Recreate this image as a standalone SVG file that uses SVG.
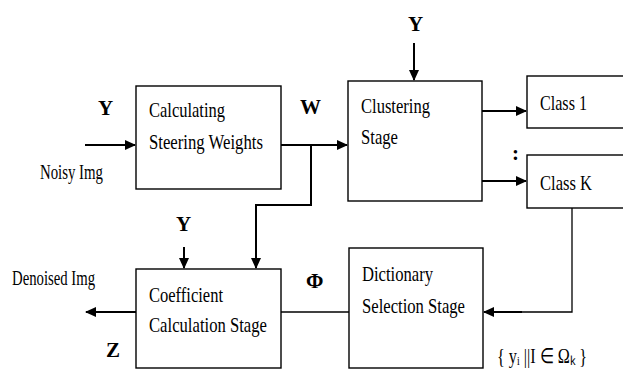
<svg xmlns="http://www.w3.org/2000/svg" width="623" height="372" viewBox="0 0 623 372">
<style>
.box{fill:#fff;stroke:#000;stroke-width:1.4}
.t{font-family:"Liberation Serif","Times New Roman",serif;font-size:21px;fill:#000}
.b{font-weight:bold}
.c{fill:none;stroke:#000;stroke-width:2}
.thin{fill:none;stroke:#000;stroke-width:1.3}
</style>
<defs>
<marker id="ah" markerWidth="11" markerHeight="10" refX="10" refY="5" orient="auto" markerUnits="userSpaceOnUse">
<path d="M0,0 L11,5 L0,10 Z" fill="#000"/>
</marker>
</defs>
<rect width="623" height="372" fill="#fff"/>
<g id="connectors">
<line class="c" x1="85" y1="145" x2="135" y2="145" marker-end="url(#ah)"/>
<line class="c" x1="281" y1="145" x2="347" y2="145" marker-end="url(#ah)"/>
<polyline class="c" points="311,145 311,205 256,205 256,268" marker-end="url(#ah)"/>
<line class="c" x1="414" y1="43" x2="414" y2="80" marker-end="url(#ah)"/>
<line class="c" x1="482" y1="111" x2="526" y2="111" marker-end="url(#ah)"/>
<line class="c" x1="482" y1="181" x2="526" y2="181" marker-end="url(#ah)"/>
<polyline class="thin" points="572,208 572,312 520,312"/>
<line class="c" x1="522" y1="312" x2="484" y2="312" marker-end="url(#ah)"/>
<line class="thin" x1="281" y1="312" x2="349" y2="312"/>
<line class="c" x1="184" y1="247" x2="184" y2="268" marker-end="url(#ah)"/>
<line class="c" x1="136" y1="312" x2="86" y2="312" marker-end="url(#ah)"/>
</g>
<g id="steering">
<rect class="box" x="136" y="86" width="145" height="103"/>
<text class="t" x="149" y="117" textLength="76" lengthAdjust="spacingAndGlyphs">Calculating</text>
<text class="t" x="149" y="149" textLength="114" lengthAdjust="spacingAndGlyphs">Steering Weights</text>
</g>
<g id="clustering">
<rect class="box" x="348" y="81" width="134" height="120"/>
<text class="t" x="361" y="113" textLength="69" lengthAdjust="spacingAndGlyphs">Clustering</text>
<text class="t" x="361" y="144" textLength="37" lengthAdjust="spacingAndGlyphs">Stage</text>
</g>
<g id="class1">
<rect class="box" x="527" y="76" width="100" height="52"/>
<text class="t" x="540" y="110" textLength="47" lengthAdjust="spacingAndGlyphs">Class 1</text>
</g>
<g id="classK">
<rect class="box" x="527" y="155" width="100" height="53"/>
<text class="t" x="540" y="190" textLength="52" lengthAdjust="spacingAndGlyphs">Class K</text>
</g>
<g id="dictionary">
<rect class="box" x="349" y="248" width="134" height="120"/>
<text class="t" x="362" y="281" textLength="71" lengthAdjust="spacingAndGlyphs">Dictionary</text>
<text class="t" x="362" y="313" textLength="103" lengthAdjust="spacingAndGlyphs">Selection Stage</text>
</g>
<g id="coefficient">
<rect class="box" x="136" y="269" width="145" height="99"/>
<text class="t" x="149" y="302" textLength="74" lengthAdjust="spacingAndGlyphs">Coefficient</text>
<text class="t" x="149" y="332" textLength="118" lengthAdjust="spacingAndGlyphs">Calculation Stage</text>
</g>
<g id="labels">
<text class="t b" x="98" y="115">Y</text>
<text class="t" x="40" y="179" textLength="63" lengthAdjust="spacingAndGlyphs">Noisy Img</text>
<text class="t b" x="300" y="114">W</text>
<text class="t b" x="408" y="31">Y</text>
<text class="t b" x="512" y="160">:</text>
<text class="t b" x="176" y="231">Y</text>
<text class="t" x="12" y="285" textLength="83" lengthAdjust="spacingAndGlyphs">Denoised Img</text>
<text class="t b" x="106" y="357">Z</text>
<text class="t b" x="306" y="288">Φ</text>
<text class="t" x="497" y="363" font-size="20" textLength="90" lengthAdjust="spacingAndGlyphs">{ yᵢ ||I ∈ Ωₖ }</text>
</g>
</svg>
